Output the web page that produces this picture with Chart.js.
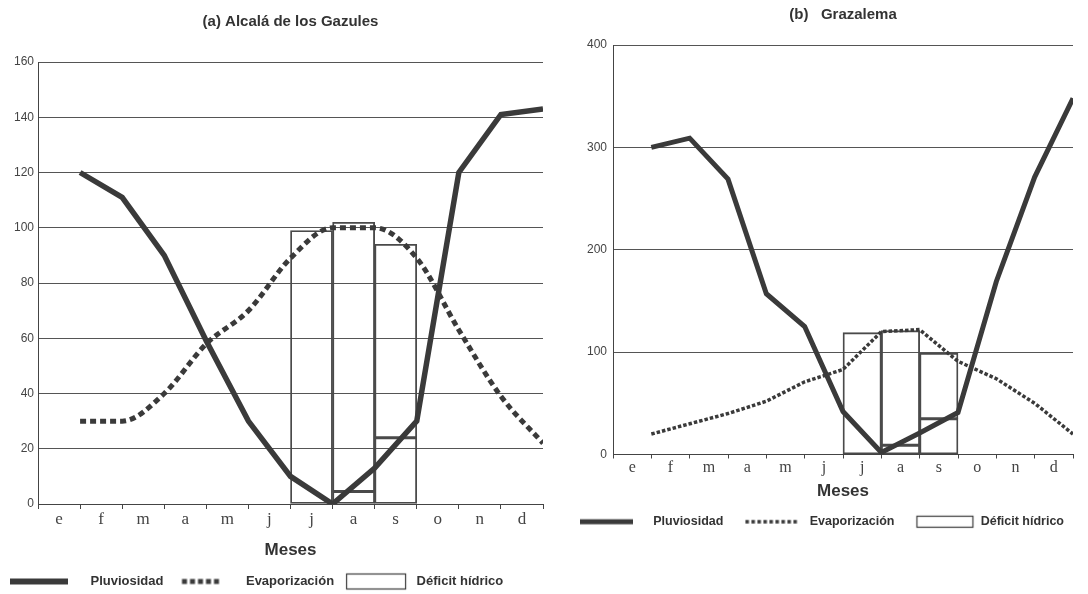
<!DOCTYPE html>
<html>
<head>
<meta charset="utf-8">
<script src="https://cdn.jsdelivr.net/npm/chart.js@4.4.1/dist/chart.umd.min.js"></script>
<style>
  html, body { margin: 0; padding: 0; background: #fff; overflow: hidden; }
  #graficoA { position: absolute; left: 0; top: 0; }
  #graficoB { position: absolute; left: 560px; top: 0; }
</style>
</head>
<body>
<canvas id="graficoA" width="560" height="598"></canvas>
<canvas id="graficoB" width="528" height="538"></canvas>
<script>
const meses = ['e', 'f', 'm', 'a', 'm', 'j', 'j', 'a', 's', 'o', 'n', 'd'];
const mesesDeficit = [6, 7, 8]; // julio, agosto, septiembre

// (a) Alcalá de los Gazules
const pluviosidadA = [120, 111, 90, 59, 30, 10, 0, 13, 30, 120, 141, 143];
const evaporizacionA = [30, 30, 40, 58, 70, 89, 100, 100, 89, 63, 39, 22];
const deficitBaseA = [0, 4.5, 24];
const deficitTopeA = [99, 102, 94];

// (b) Grazalema
const pluviosidadB = [300, 309, 269, 157, 125, 42, 2, 21, 41, 169, 271, 348];
const evaporizacionB = [20, 30, 40, 52, 71, 83, 120, 122, 91, 74, 50, 20];
const deficitBaseB = [0, 9, 35];
const deficitTopeB = [119, 121, 99];

const tinta = '#3a3a3a';

// each month's value sits on the tick at the end of the month
function alFinalDelMes(valores) {
  return valores.map((v, i) => ({ x: i + 1, y: v }));
}

function barras(desde, hasta) {
  return mesesDeficit.map((m, i) => ({ x: m + 0.5, y: [desde[i], hasta[i]] }));
}

function muestra(ancho, dibujar) {
  const c = document.createElement('canvas');
  c.width = ancho;
  c.height = 20;
  const ctx = c.getContext('2d');
  ctx.strokeStyle = tinta;
  dibujar(ctx);
  return c;
}

const muestrasA = [
  muestra(80, (ctx) => { ctx.lineWidth = 6; ctx.beginPath(); ctx.moveTo(1, 10); ctx.lineTo(59, 10); ctx.stroke(); }),
  muestra(80, (ctx) => { ctx.lineWidth = 5; ctx.setLineDash([5, 3]); ctx.beginPath(); ctx.moveTo(17.5, 10); ctx.lineTo(57, 10); ctx.stroke(); }),
  muestra(80, (ctx) => { ctx.lineWidth = 1.2; ctx.strokeRect(11.5, 2.5, 59, 15); })
];
const muestrasB = [
  muestra(84, (ctx) => { ctx.lineWidth = 5; ctx.beginPath(); ctx.moveTo(12, 10); ctx.lineTo(65, 10); ctx.stroke(); }),
  muestra(84, (ctx) => { ctx.lineWidth = 3.5; ctx.setLineDash([3.5, 2.5]); ctx.beginPath(); ctx.moveTo(21, 10); ctx.lineTo(73, 10); ctx.stroke(); }),
  muestra(84, (ctx) => { ctx.lineWidth = 1.2; ctx.strokeRect(21.5, 4.5, 56, 11); })
];

function crearGrafico(id, p) {
  new Chart(document.getElementById(id), {
    type: 'line',
    data: {
      datasets: [
        {
          label: 'Pluviosidad',
          data: alFinalDelMes(p.pluviosidad),
          borderColor: tinta,
          borderWidth: p.anchoPluv,
          pointRadius: 0,
          tension: 0
        },
        {
          label: 'Evaporización',
          data: alFinalDelMes(p.evaporizacion),
          borderColor: tinta,
          borderWidth: p.anchoEvap,
          borderDash: p.trazoEvap,
          borderCapStyle: 'butt',
          pointRadius: 0,
          cubicInterpolationMode: p.suave ? 'monotone' : 'default'
        },
        {
          type: 'bar',
          label: 'Déficit hídrico',
          data: barras(p.deficitBase, p.deficitTope),
          backgroundColor: 'rgba(0,0,0,0)',
          borderColor: '#4a4a4a',
          borderWidth: 1.2,
          borderSkipped: false,
          grouped: false,
          barPercentage: 1,
          categoryPercentage: 1
        },
        {
          type: 'bar',
          label: 'base',
          data: barras(p.deficitBase.map(() => 0), p.deficitBase),
          backgroundColor: 'rgba(0,0,0,0)',
          borderColor: '#4a4a4a',
          borderWidth: 1.2,
          borderSkipped: false,
          grouped: false,
          barPercentage: 1,
          categoryPercentage: 1
        }
      ]
    },
    options: {
      responsive: false,
      animation: false,
      layout: { padding: { left: p.margenIzq, right: p.margenDer, top: 0, bottom: 0 } },
      scales: {
        x: {
          type: 'linear',
          min: 0,
          max: 12,
          offset: false,
          afterFit: (s) => { s.height = p.altoX; },
          border: { display: true, color: '#444', width: 1 },
          grid: { offset: false, drawOnChartArea: false, tickLength: p.largoTick, color: '#444', tickColor: '#444' },
          ticks: {
            stepSize: 1,
            autoSkip: false,
            maxRotation: 0,
            padding: 0,
            labelOffset: p.medioMes,
            font: { family: 'Liberation Serif', size: p.letraMes },
            color: '#444',
            callback: (v) => meses[v] ?? ''
          },
          title: {
            display: true,
            text: 'Meses',
            font: { family: 'Liberation Sans', size: 17, weight: 'bold' },
            color: '#333',
            padding: { top: 0, bottom: p.bajoMeses }
          }
        },
        y: {
          min: 0,
          max: p.maxY,
          afterFit: (s) => { s.width = p.anchoY; },
          border: { display: true, color: '#444', width: 1 },
          grid: { color: '#555', lineWidth: 1, drawTicks: false },
          ticks: {
            stepSize: p.pasoY,
            padding: p.sepY,
            font: { family: 'Liberation Sans', size: 12 },
            color: '#444'
          }
        }
      },
      plugins: {
        tooltip: { enabled: false },
        title: {
          display: true,
          text: p.titulo,
          fullSize: false,
          font: { family: 'Liberation Sans', size: 15, weight: 'bold' },
          color: '#333',
          padding: p.padTitulo
        },
        legend: {
          position: 'bottom',
          align: 'start',
          labels: {
            usePointStyle: true,
            pointStyleWidth: p.cajaLeyenda,
            padding: 6,
            font: { family: 'Liberation Sans', size: p.letraLeyenda, weight: 'bold' },
            color: '#333',
            generateLabels: (chart) => chart.data.datasets.slice(0, 3).map((ds, i) => ({
              text: ds.label,
              pointStyle: p.muestras[i],
              datasetIndex: i,
              fontColor: '#333',
              lineWidth: 0,
              hidden: false
            }))
          }
        }
      }
    }
  });
}

crearGrafico('graficoA', {
  titulo: '(a) Alcalá de los Gazules',
  pluviosidad: pluviosidadA,
  evaporizacion: evaporizacionA,
  deficitBase: deficitBaseA,
  deficitTope: deficitTopeA,
  anchoPluv: 5.5,
  anchoEvap: 5,
  trazoEvap: [6, 4],
  suave: true,
  maxY: 160,
  pasoY: 20,
  sepY: 4,
  anchoY: 30,
  margenIzq: 8,
  margenDer: 17,
  altoX: 65,
  largoTick: 5,
  medioMes: 21,
  letraMes: 17,
  bajoMeses: 8,
  padTitulo: { top: 13, bottom: 31 },
  cajaLeyenda: 70,
  letraLeyenda: 13,
  muestras: muestrasA
});

crearGrafico('graficoB', {
  titulo: '(b)   Grazalema',
  pluviosidad: pluviosidadB,
  evaporizacion: evaporizacionB,
  deficitBase: deficitBaseB,
  deficitTope: deficitTopeB,
  anchoPluv: 5,
  anchoEvap: 3.5,
  trazoEvap: [3.5, 2],
  suave: false,
  maxY: 400,
  pasoY: 100,
  sepY: 6,
  anchoY: 46,
  margenIzq: 7,
  margenDer: 15,
  altoX: 55,
  largoTick: 4,
  medioMes: 19.2,
  letraMes: 16,
  bajoMeses: 8,
  padTitulo: { top: 6, bottom: 21 },
  cajaLeyenda: 74,
  letraLeyenda: 12.5,
  muestras: muestrasB
});
</script>
</body>
</html>
